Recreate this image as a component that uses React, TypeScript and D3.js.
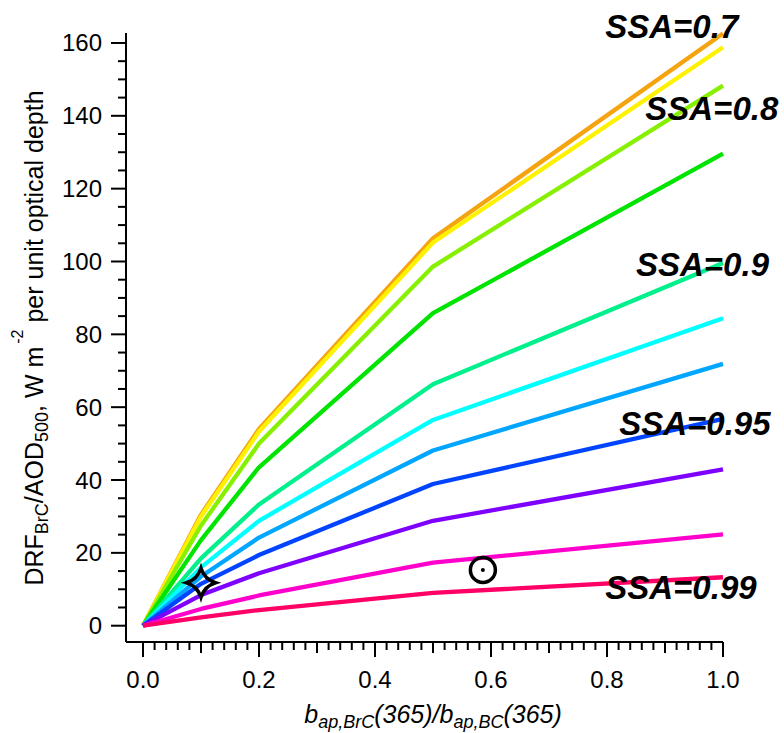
import React from "react";
import * as d3 from "d3";

// ratio of BrC to BC absorption at 365 nm
const ratios = [0, 0.1, 0.2, 0.5, 1.0];

// DRF/AOD for each single scattering albedo, top (SSA=0.7) to bottom (SSA=0.99)
const ssa070 = [0, 30.5, 54.0, 106.4, 162.6];
const ssa075 = [0, 30.0, 53.3, 105.2, 158.8];
const ssa080 = [0, 27.5, 50.0, 98.6, 148.3];
const ssa085 = [0, 23.5, 43.5, 85.8, 129.6];
const ssa090 = [0, 18.5, 33.3, 66.3, 99.6];
const ssa092 = [0, 16.0, 28.8, 56.5, 84.4];
const ssa093 = [0, 13.5, 24.2, 48.1, 71.9];
const ssa095 = [0, 11.5, 19.4, 38.9, 56.8];
const ssa097 = [0, 8.4, 14.4, 28.8, 42.9];
const ssa098 = [0, 4.6, 8.3, 17.3, 25.1];
const ssa099 = [0, 2.3, 4.3, 9.0, 13.3];

const seriesList = [ssa070, ssa075, ssa080, ssa085, ssa090, ssa092, ssa093, ssa095, ssa097, ssa098, ssa099];
const seriesColors = [
  "#F5A30F", "#FFF200", "#86F000", "#00E400", "#00F08C", "#00FFFF",
  "#00A6FF", "#0044FF", "#7E00FF", "#FF00CC", "#FF0066",
];

// labels next to the curves (data coordinates of the text start)
const ssaLabels = ["SSA=0.7", "SSA=0.8", "SSA=0.9", "SSA=0.95", "SSA=0.99"];
const ssaLabelX = [0.797, 0.866, 0.85, 0.821, 0.797];
const ssaLabelY = [161.4, 138.9, 95.9, 52.4, 7.3];

// two observation markers
const starPoint = [0.1, 11.8];
const circlePoint = [0.586, 15.3];

const yTicks = [0, 20, 40, 60, 80, 100, 120, 140, 160];
const xTicks = [0, 0.2, 0.4, 0.6, 0.8, 1.0];

const FONT = "'Liberation Sans', Arial, sans-serif";

export default function App() {
  const width = 784;
  const height = 733;
  const x = d3.scaleLinear().domain([0, 1]).range([143, 723]);
  const y = d3.scaleLinear().domain([0, 162.6]).range([625.7, 33.5]);
  const axisX = 126; // left axis position
  const axisY = 642; // bottom axis position

  const line = d3
    .line<number>()
    .x((d, i) => x(ratios[i]))
    .y((d) => y(d));

  const xMinor = d3.range(0, 101, 2).map((v) => v / 100);
  const yMinor = d3.range(0, 161, 5);

  // concave four-point star
  const R = 14.5;
  const c = 3.5;
  const starPath = `M0,${-R} Q${c},${-c} ${R},0 Q${c},${c} 0,${R} Q${-c},${c} ${-R},0 Q${-c},${-c} 0,${-R}Z`;

  return (
    <svg width={width} height={height} style={{ display: "block", position: "absolute", left: 0, top: 0 }}>
      <rect width={width} height={height} fill="#fff" />

      {/* curves */}
      {seriesList.map((s, i) => (
        <path key={i} d={line(s) || ""} fill="none" stroke={seriesColors[i]} strokeWidth={4.3} strokeLinejoin="round" />
      ))}

      {/* markers */}
      <path
        d={starPath}
        transform={`translate(${x(starPoint[0])},${y(starPoint[1])})`}
        fill="none"
        stroke="#000"
        strokeWidth={3.5}
        strokeLinejoin="miter"
      />
      <circle cx={x(circlePoint[0])} cy={y(circlePoint[1])} r={12.5} fill="none" stroke="#000" strokeWidth={3.5} />
      <circle cx={x(circlePoint[0])} cy={y(circlePoint[1])} r={2} fill="#000" />

      {/* SSA labels */}
      {ssaLabels.map((t, i) => (
        <text
          key={t}
          x={x(ssaLabelX[i])}
          y={y(ssaLabelY[i])}
          fontFamily={FONT}
          fontSize={33}
          fontWeight="bold"
          fontStyle="italic"
          fill="#000"
        >
          {t}
        </text>
      ))}

      {/* left axis */}
      <g stroke="#000" strokeWidth={2}>
        <line x1={axisX} x2={axisX} y1={axisY} y2={33} />
        {yMinor.map((v) => (
          <line key={"ym" + v} x1={axisX - (v % 20 === 0 ? 15 : 8)} x2={axisX} y1={y(v)} y2={y(v)} />
        ))}
      </g>
      {yTicks.map((v) => (
        <text
          key={"yt" + v}
          x={102}
          y={y(v)}
          textAnchor="end"
          dominantBaseline="central"
          fontFamily={FONT}
          fontSize={24}
          fill="#000"
        >
          {v}
        </text>
      ))}

      {/* bottom axis */}
      <g stroke="#000" strokeWidth={2}>
        <line x1={axisX} x2={x(1)} y1={axisY} y2={axisY} />
        {xMinor.map((v) => {
          const k = Math.round(v * 100);
          const len = k % 20 === 0 ? 15 : k % 10 === 0 ? 11 : 8;
          return <line key={"xm" + k} x1={x(v)} x2={x(v)} y1={axisY} y2={axisY + len} />;
        })}
      </g>
      {xTicks.map((v) => (
        <text
          key={"xt" + v}
          x={x(v)}
          y={688}
          textAnchor="middle"
          fontFamily={FONT}
          fontSize={24}
          fill="#000"
        >
          {d3.format(".1f")(v)}
        </text>
      ))}

      {/* axis titles */}
      <text x={433} y={723} textAnchor="middle" fontFamily={FONT} fontSize={25} fontStyle="italic" fill="#000">
        b
        <tspan fontSize={18} dy={5}>ap,BrC</tspan>
        <tspan dy={-5}>(365)/b</tspan>
        <tspan fontSize={18} dy={5}>ap,BC</tspan>
        <tspan dy={-5}>(365)</tspan>
      </text>
      <text
        transform="translate(43,338) rotate(-90)"
        textAnchor="middle"
        fontFamily={FONT}
        fontSize={25}
        fill="#000"
      >
        DRF
        <tspan fontSize={18} dy={5}>BrC</tspan>
        <tspan dy={-5}>/AOD</tspan>
        <tspan fontSize={18} dy={5}>500</tspan>
        <tspan dy={-5}>, W m</tspan>
        <tspan fontSize={16} dy={-20} dx={3}>-2</tspan>
        <tspan dy={20}>  per unit optical depth</tspan>
      </text>
    </svg>
  );
}
